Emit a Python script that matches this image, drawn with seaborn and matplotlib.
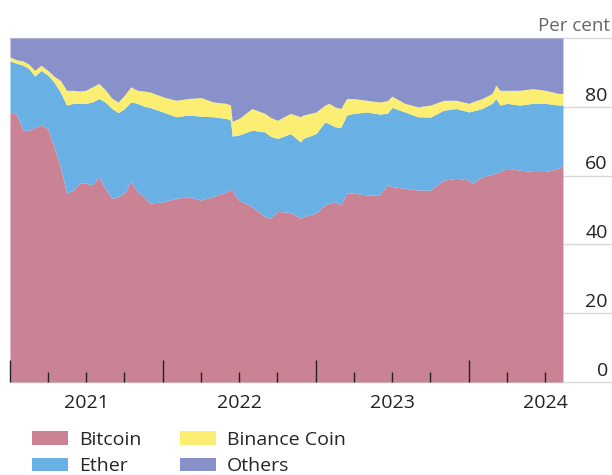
import pandas as pd
import matplotlib.pyplot as plt
import seaborn as sns

# Market share of the four series, per cent
dates = ['2021-01-01', '2021-01-16', '2021-02-01', '2021-02-15', '2021-03-01', '2021-03-16',
         '2021-04-01', '2021-04-16', '2021-05-01', '2021-05-16', '2021-06-01', '2021-06-16',
         '2021-07-01', '2021-07-16', '2021-08-01', '2021-08-16', '2021-09-01', '2021-09-16',
         '2021-10-01', '2021-10-16', '2021-11-01', '2021-11-16', '2021-12-01', '2022-01-01',
         '2022-02-01', '2022-03-01', '2022-04-01', '2022-05-01', '2022-06-01', '2022-06-11',
         '2022-06-15', '2022-07-01', '2022-08-01', '2022-09-01', '2022-09-13', '2022-10-01',
         '2022-11-01', '2022-11-25', '2022-12-01', '2023-01-01', '2023-01-22', '2023-02-01',
         '2023-02-15', '2023-03-01', '2023-03-15', '2023-04-01', '2023-05-01', '2023-06-01',
         '2023-06-20', '2023-07-01', '2023-08-01', '2023-09-01', '2023-10-01', '2023-11-01',
         '2023-12-01', '2024-01-01', '2024-01-10', '2024-02-01', '2024-02-25', '2024-03-05',
         '2024-03-15', '2024-04-01', '2024-05-01', '2024-06-01', '2024-07-01', '2024-08-01',
         '2024-08-12']
bitcoin = [78.5, 77.9, 73.2, 73.2, 74.0, 74.7, 73.7, 68.4, 62.6, 54.9, 55.8, 57.8,
           57.8, 57.3, 59.7, 56.3, 53.4, 53.9, 54.9, 58.3, 55.3, 53.9, 52.0, 52.4,
           53.4, 53.9, 52.9, 53.9, 55.3, 56.0, 55.5, 52.9, 51.0, 48.1, 47.6, 49.6,
           49.3, 47.6, 48.1, 49.1, 51.5, 52.0, 52.4, 51.5, 54.9, 54.9, 54.4, 54.4,
           57.3, 56.8, 56.3, 55.8, 55.8, 58.7, 59.2, 58.7, 57.8, 59.7, 60.3, 60.8,
           61.2, 62.1, 61.6, 61.2, 61.2, 62.1, 63.1]
ether = [14.8, 14.8, 18.9, 17.9, 14.9, 15.9, 15.5, 18.8, 21.7, 25.6, 25.2, 23.2,
         23.2, 24.1, 22.7, 25.1, 26.1, 24.4, 24.6, 23.1, 25.7, 26.3, 27.8, 26.1,
         23.7, 23.7, 24.4, 23.2, 21.3, 20.1, 16.0, 18.9, 22.2, 24.6, 23.9, 21.2,
         22.9, 22.2, 22.7, 23.1, 24.1, 23.1, 21.8, 22.5, 22.7, 23.2, 24.1, 23.5,
         20.8, 23.0, 22.2, 21.3, 21.2, 20.3, 20.3, 19.8, 21.0, 19.8, 20.7, 21.6,
         19.3, 18.9, 18.9, 19.8, 19.8, 18.4, 17.4]
binance = [1.2, 1.0, 1.2, 1.3, 1.7, 1.5, 1.4, 1.7, 3.4, 4.3, 3.8, 3.6,
           3.8, 4.4, 4.4, 3.6, 3.0, 3.1, 3.9, 4.4, 3.8, 4.4, 4.5, 4.4,
           4.8, 4.8, 5.4, 4.3, 4.4, 4.4, 4.3, 4.8, 6.3, 5.4, 5.5, 5.3,
           5.9, 7.3, 6.8, 6.3, 4.9, 5.9, 5.8, 5.5, 4.8, 4.3, 3.4, 3.5,
           3.7, 3.3, 2.5, 2.9, 3.5, 2.9, 2.4, 2.5, 2.7, 2.9, 2.9, 3.9,
           4.3, 3.8, 4.3, 4.3, 3.8, 3.4, 3.4]
others = [5.5, 6.3, 6.7, 7.6, 9.4, 7.9, 9.4, 11.1, 12.3, 15.2, 15.2, 15.4,
          15.2, 14.2, 13.2, 15.0, 17.5, 18.6, 16.6, 14.2, 15.2, 15.4, 15.7, 17.1,
          18.1, 17.6, 17.3, 18.6, 19.0, 19.5, 24.2, 23.4, 20.5, 21.9, 23.0, 23.9,
          21.9, 22.9, 22.4, 21.5, 19.5, 19.0, 20.0, 20.5, 17.6, 17.6, 18.1, 18.6,
          18.2, 16.9, 19.0, 20.0, 19.5, 18.1, 18.1, 19.0, 18.5, 17.6, 16.1, 13.7,
          15.2, 15.2, 15.2, 14.7, 15.2, 16.1, 16.1]

coins = ['Bitcoin', 'Ether', 'Binance Coin', 'Others']
colours = ['#C98395', '#69B0E5', '#FBEE72', '#8891C9']
y_ticks = [0, 20, 40, 60, 80, 100]
y_labels = ['0', '20', '40', '60', '80']
years = [2021, 2022, 2023, 2024]

sns.set_theme(style='white')
plt.rcParams['font.family'] = ['Open Sans', 'DejaVu Sans']

df = pd.DataFrame({'Bitcoin': bitcoin, 'Ether': ether, 'Binance Coin': binance, 'Others': others},
                  index=pd.to_datetime(dates))

fig = plt.figure(figsize=(6.12, 4.75), dpi=100)
ax = fig.add_axes([10 / 612, 93 / 475, 602 / 612, 344 / 475])

ax.stackplot(df.index, [df[c] for c in coins], colors=colours, labels=coins,
             linewidth=0, zorder=2)

# light grid lines, only visible to the right of the areas
for v in y_ticks:
    ax.axhline(v, color='#d9d9d9', lw=1, zorder=1, clip_on=False)
for v, lab in zip(y_ticks, y_labels):
    ax.annotate(lab, xy=(1, v), xycoords=('axes fraction', 'data'), xytext=(-3, 4.5),
                textcoords='offset points', ha='right', va='baseline', fontsize=14, color='#222222')

ax.set_ylim(0, 100)
ax.set_xlim(pd.Timestamp('2021-01-01'), pd.Timestamp('2024-12-07'))

# year ticks and quarterly ticks inside the data range
end = df.index[-1]
major = [pd.Timestamp(f'{y}-01-01') for y in years]
minor = [pd.Timestamp(f'{y}-{m:02d}-01') for y in years for m in (4, 7, 10)]
minor = [d for d in minor if d <= end]
ax.set_xticks(major)
ax.set_xticks(minor, minor=True)
ax.set_yticks([])
ax.set_axisbelow(False)
ax.tick_params(axis='x', which='major', direction='in', length=16, width=1.0, color='#222222',
               labelbottom=False, bottom=True)
ax.tick_params(axis='x', which='minor', direction='in', length=7, width=1.0, color='#222222',
               labelbottom=False, bottom=True)
for y in years:
    ax.annotate(str(y), xy=(pd.Timestamp(f'{y}-07-02'), 0), xycoords=('data', 'axes fraction'),
                xytext=(0, -18.5), textcoords='offset points', ha='center', va='baseline',
                fontsize=14, color='#222222')

for s in ax.spines.values():
    s.set_visible(False)

fig.text(610 / 612, 1 - 31 / 475, 'Per cent', ha='right', va='baseline', fontsize=13.5, color='#666666')

handles, labels = ax.get_legend_handles_labels()
fig.legend(handles, labels, loc='upper left', bbox_to_anchor=(32 / 612, 1 - 431 / 475), ncol=2,
           frameon=False, fontsize=14, handlelength=1.85, handleheight=0.7, handletextpad=0.55,
           columnspacing=2.0, labelspacing=0.42, borderaxespad=0, borderpad=0)

fig.savefig('out.png', dpi=100)
